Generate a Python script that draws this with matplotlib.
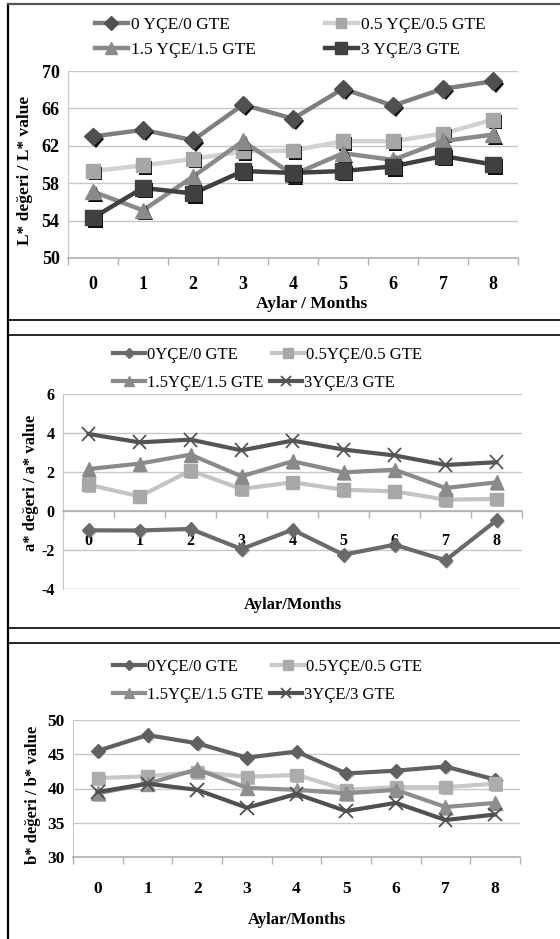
import matplotlib
matplotlib.use("Agg")
import numpy as np
import matplotlib.pyplot as plt
from matplotlib.lines import Line2D
import matplotlib.patheffects as pe
from matplotlib.ticker import FixedLocator

plt.rcParams['font.family'] = ['Liberation Serif', 'DejaVu Serif']
plt.rcParams['axes.unicode_minus'] = False

months = [0, 1, 2, 3, 4, 5, 6, 7, 8]
labels = ["0 YÇE/0 GTE", "0.5 YÇE/0.5 GTE", "1.5 YÇE/1.5 GTE", "3 YÇE/3 GTE"]
labels_b = ["0YÇE/0 GTE", "0.5YÇE/0.5 GTE", "1.5YÇE/1.5 GTE", "3YÇE/3 GTE"]

L_0 = [63.0, 63.7, 62.6, 66.4, 64.9, 68.1, 66.3, 68.1, 68.9]
L_05 = [59.3, 59.9, 60.6, 61.4, 61.5, 62.5, 62.5, 63.3, 64.8]
L_15 = [57.1, 55.1, 58.7, 62.5, 58.9, 61.2, 60.5, 62.5, 63.2]
L_3 = [54.3, 57.5, 56.9, 59.3, 59.1, 59.3, 59.8, 60.9, 60.0]

a_0 = [-0.99, -1.0, -0.92, -1.95, -0.96, -2.24, -1.73, -2.53, -0.48]
a_05 = [1.35, 0.75, 2.07, 1.13, 1.47, 1.09, 1.01, 0.58, 0.62]
a_15 = [2.15, 2.43, 2.89, 1.78, 2.55, 1.98, 2.12, 1.18, 1.47]
a_3 = [3.95, 3.52, 3.66, 3.11, 3.61, 3.15, 2.85, 2.36, 2.50]

b_0 = [45.5, 47.8, 46.6, 44.5, 45.4, 42.2, 42.6, 43.2, 41.3]
b_05 = [41.5, 41.8, 42.4, 41.7, 42.0, 39.8, 40.2, 40.2, 40.7]
b_15 = [39.3, 40.7, 42.8, 40.1, 39.8, 39.3, 39.8, 37.3, 37.9]
b_3 = [39.5, 40.7, 39.8, 37.2, 39.2, 36.7, 37.9, 35.4, 36.2]

W, H = 560, 939
fig = plt.figure(figsize=(W / 100, H / 100), dpi=100)


def fx(px):
    return px / W


def fy(py):
    return 1 - py / H


def axes_px(l, t, r, b):
    return fig.add_axes([fx(l), fy(b), (r - l) / W, (b - t) / H])


# frame lines
fig.add_artist(Line2D([fx(8), fx(8)], [fy(4), fy(939)], color='black', lw=1.6))
fig.add_artist(Line2D([fx(8), fx(560)], [fy(4), fy(4)], color='#555555', lw=1.6))
for yy in [320, 335, 628, 643]:
    fig.add_artist(Line2D([fx(8), fx(560)], [fy(yy), fy(yy)], color='black', lw=1.2))


def style_axes(ax, ylim, ystep, tick_fs, pad, zero_axis=False):
    ax.set_xlim(-0.5, 8.5)
    ax.set_ylim(*ylim)
    ax.yaxis.set_major_locator(FixedLocator(np.arange(ylim[0], ylim[1] + 0.01, ystep)))
    ax.xaxis.set_major_locator(FixedLocator(months))
    ax.xaxis.set_minor_locator(FixedLocator([m + 0.5 for m in [-1] + months]))
    ax.grid(axis='y', color='#c8c8c8', lw=1.0)
    ax.set_axisbelow(True)
    for s in ['top', 'right']:
        ax.spines[s].set_visible(False)
    ax.spines['left'].set_color('#c8c8c8')
    ax.spines['bottom'].set_color('#b0b0b0')
    ax.spines['bottom'].set_linewidth(1.2)
    if zero_axis:
        ax.spines['bottom'].set_position(('data', 0))
    ax.tick_params(axis='y', length=0, labelsize=tick_fs, pad=6)
    ax.tick_params(axis='x', which='major', length=0, labelsize=tick_fs, pad=pad)
    ax.tick_params(axis='x', which='minor', length=5, color='#b0b0b0', width=1)
    for t in ax.get_xticklabels() + ax.get_yticklabels():
        t.set_fontweight('bold')


def draw_series(ax, x, y, lc, mc, marker, ms, lw, shadow):
    ax.plot(x, y, color=lc, lw=lw, solid_joinstyle='round')
    if marker == 'x':
        ax.plot(x, y, linestyle='none', marker='x', ms=ms, mew=1.3, color=mc,
                path_effects=shadow)
    else:
        ax.plot(x, y, linestyle='none', marker=marker, ms=ms, color=mc, mec=mc,
                path_effects=shadow)


def legend_entry(label, lc, mc, marker, ms, lw, xpx, ypx, fs):
    h = Line2D([], [], color=lc, lw=lw, marker=marker, ms=ms, mfc=mc, mec=mc,
               mew=1.3 if marker == 'x' else 1)
    fig.legend([h], [label], loc='center left',
               bbox_to_anchor=(fx(xpx), fy(ypx)), frameon=False,
               borderpad=0, borderaxespad=0, handlelength=1.9,
               handletextpad=0.15, fontsize=fs)


# ---------------- Panel 1: L* ----------------
ax1 = axes_px(68, 71, 518, 258)
style_axes(ax1, (50, 70), 4, 13, 13)
sh1 = [pe.SimplePatchShadow(offset=(1.8, -1.8), shadow_rgbFace='black', alpha=0.95),
       pe.Normal()]
s1 = [
    (L_0, '#7f7f7f', '#505050', 'D', 9),
    (L_05, '#d2d2d2', '#a6a6a6', 's', 10),
    (L_15, '#8a8a8a', '#8a8a8a', '^', 11),
    (L_3, '#404040', '#404040', 's', 11),
]
for y, lc, mc, mk, ms in s1:
    draw_series(ax1, months, y, lc, mc, mk, ms, 3.2, sh1)
fig.text(fx(25), fy(170), "L* değeri / L* value", rotation=90, ha='center',
         va='center', fontsize=12.5, fontweight='bold')
fig.text(fx(312), fy(304), "Aylar / Months", ha='center', va='center',
         fontsize=12.5, fontweight='bold')
pos1 = [(95, 25), (325, 25), (95, 50), (325, 50)]
for (y, lc, mc, mk, ms), lab, (px, py) in zip(s1, labels, pos1):
    legend_entry(lab, lc, mc, mk, ms * 0.75, 3.2, px, py, 12.5)

# ---------------- Panel 2: a* ----------------
ax2 = axes_px(63, 394, 522, 589)
style_axes(ax2, (-4, 6), 2, 11.5, 16, zero_axis=True)
sh2 = [pe.SimplePatchShadow(offset=(1.2, -1.2), shadow_rgbFace='#777777', alpha=0.5),
       pe.Normal()]
s2 = [
    (a_0, '#6a6a6a', '#6a6a6a', 'D', 7),
    (a_05, '#c4c4c4', '#a8a8a8', 's', 9),
    (a_15, '#8a8a8a', '#8a8a8a', '^', 10),
    (a_3, '#555555', '#555555', 'x', 10),
]
for y, lc, mc, mk, ms in s2:
    draw_series(ax2, months, y, lc, mc, mk, ms, 3.0, sh2)
fig.text(fx(31), fy(483), "a* değeri / a* value", rotation=90, ha='center',
         va='center', fontsize=12, fontweight='bold')
fig.text(fx(293), fy(605), "Aylar/Months", ha='center', va='center',
         fontsize=12, fontweight='bold')
pos2 = [(113, 355), (272, 355), (113, 383), (270, 383)]
for (y, lc, mc, mk, ms), lab, (px, py) in zip(s2, labels_b, pos2):
    legend_entry(lab, lc, mc, mk, ms * 0.75, 3.0, px, py, 12)

# ---------------- Panel 3: b* ----------------
ax3 = axes_px(73, 720, 520, 857)
style_axes(ax3, (30, 50), 5, 12.5, 17)
s3 = [
    (b_0, '#606060', '#606060', 'D', 7),
    (b_05, '#c8c8c8', '#acacac', 's', 9),
    (b_15, '#8e8e8e', '#8e8e8e', '^', 10),
    (b_3, '#505050', '#505050', 'x', 10),
]
for y, lc, mc, mk, ms in s3:
    draw_series(ax3, months, y, lc, mc, mk, ms, 3.0, sh2)
fig.text(fx(33), fy(795), "b* değeri / b* value", rotation=90, ha='center',
         va='center', fontsize=12, fontweight='bold')
fig.text(fx(297), fy(920), "Aylar/Months", ha='center', va='center',
         fontsize=12, fontweight='bold')
pos3 = [(113, 667), (272, 667), (113, 695), (270, 695)]
for (y, lc, mc, mk, ms), lab, (px, py) in zip(s3, labels_b, pos3):
    legend_entry(lab, lc, mc, mk, ms * 0.75, 3.0, px, py, 12)

fig.savefig("out.png", dpi=100)
